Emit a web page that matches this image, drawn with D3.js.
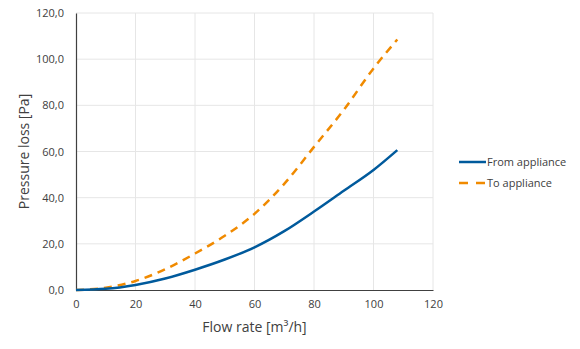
<!DOCTYPE html>
<html>
<head>
<meta charset="utf-8">
<script src="https://cdn.jsdelivr.net/npm/d3@7"></script>
<style>
  body { margin: 0; background: #fff; }
  text { font-family: "Open Sans", sans-serif; }
</style>
</head>
<body>
<div id="chart"></div>
<script>
// data
var flow = [0, 10, 20, 30, 40, 50, 60, 70, 80, 90, 100, 108];
var fromAppliance = [0, 0.5, 2.2, 5, 8.8, 13.2, 18.5, 25.5, 34, 43, 52, 60.6];
var toAppliance = [0, 1, 3.9, 9, 15.8, 23.5, 33, 46, 62, 78, 96, 108.5];
var seriesNames = ["From appliance", "To appliance"];
var xTicks = [0, 20, 40, 60, 80, 100, 120];
var yTicks = [0, 20, 40, 60, 80, 100, 120];

var W = 580, H = 349;
var margin = {top: 13, left: 76, right: 147, bottom: 59};
var width = W - margin.left - margin.right,
    height = H - margin.top - margin.bottom;

var svg = d3.select("#chart").append("svg")
    .attr("width", W)
    .attr("height", H);

var x = d3.scaleLinear().domain([0, 120]).range([0, width]);
var y = d3.scaleLinear().domain([0, 120]).range([height, 0]);

var g = svg.append("g")
    .attr("transform", "translate(" + margin.left + "," + margin.top + ")");

// grid
g.append("g").selectAll("line").data(yTicks.slice(1)).enter().append("line")
    .attr("x1", 0).attr("x2", width)
    .attr("y1", function(d) { return y(d); })
    .attr("y2", function(d) { return y(d); })
    .attr("stroke", "#e6e6e6").attr("stroke-width", 1);
g.append("g").selectAll("line").data(xTicks.slice(1)).enter().append("line")
    .attr("y1", 0).attr("y2", height)
    .attr("x1", function(d) { return x(d); })
    .attr("x2", function(d) { return x(d); })
    .attr("stroke", "#e6e6e6").attr("stroke-width", 1);

// axes
var xAxis = d3.axisBottom(x).tickValues(xTicks).tickSize(0).tickPadding(10);
var yAxis = d3.axisLeft(y).tickValues(yTicks).tickSize(0).tickPadding(12)
    .tickFormat(function(d) { return d3.format(".1f")(d).replace(".", ","); });

var gx = g.append("g")
    .attr("transform", "translate(0," + height + ")")
    .call(xAxis);
var gy = g.append("g").call(yAxis);

[gx, gy].forEach(function(a) {
  a.select(".domain").attr("stroke", "#404040").attr("stroke-width", 1.2);
  a.selectAll("text").attr("fill", "#404040").style("font-size", "11px")
    .style("font-family", "'Open Sans', sans-serif");
});

// lines
var line = d3.line()
    .curve(d3.curveMonotoneX)
    .x(function(d, i) { return x(flow[i]); })
    .y(function(d) { return y(d); });

g.append("path")
    .datum(toAppliance)
    .attr("fill", "none")
    .attr("stroke", "#f08a00")
    .attr("stroke-width", 2.5)
    .attr("stroke-dasharray", "8,6")
    .attr("d", line);

g.append("path")
    .datum(fromAppliance)
    .attr("fill", "none")
    .attr("stroke", "#005a9c")
    .attr("stroke-width", 2.5)
    .attr("d", line);

// axis titles
svg.append("text")
    .attr("x", margin.left + width / 2)
    .attr("y", 332)
    .attr("text-anchor", "middle")
    .attr("fill", "#404040")
    .style("font-size", "14px")
    .text("Flow rate [m³/h]");

svg.append("text")
    .attr("transform", "translate(29," + (margin.top + height / 2) + ") rotate(-90)")
    .attr("text-anchor", "middle")
    .attr("fill", "#404040")
    .style("font-size", "14px")
    .text("Pressure loss [Pa]");

// legend
var legend = svg.append("g").attr("transform", "translate(459,162)");
var colors = ["#005a9c", "#f08a00"];
seriesNames.forEach(function(name, i) {
  var row = legend.append("g").attr("transform", "translate(0," + (i * 21) + ")");
  row.append("line")
    .attr("x1", 0).attr("x2", 27).attr("y1", 0).attr("y2", 0)
    .attr("stroke", colors[i]).attr("stroke-width", 2.5)
    .attr("stroke-dasharray", i == 1 ? "9,8" : null);
  row.append("text")
    .attr("x", 28).attr("y", 4)
    .attr("fill", "#404040")
    .style("font-size", "11px")
    .text(name);
});
</script>
</body>
</html>
